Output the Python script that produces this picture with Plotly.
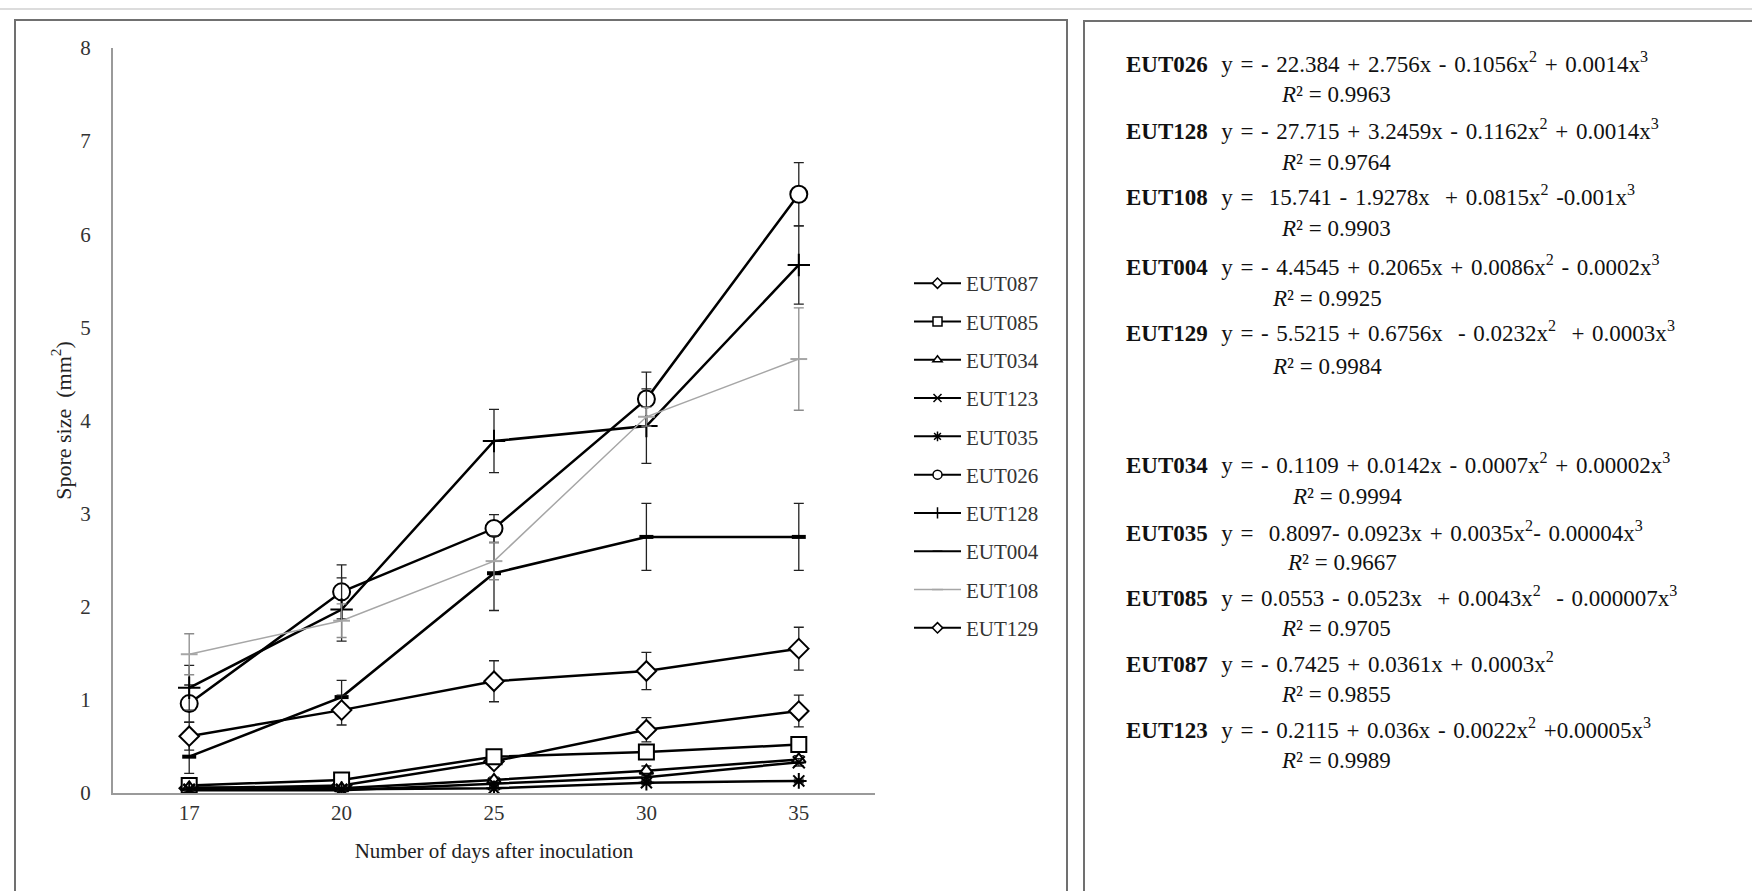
import plotly.graph_objects as go

# ---------------- data ----------------
days = ["17", "20", "25", "30", "35"]

series_names = ["EUT087", "EUT085", "EUT034", "EUT123", "EUT035",
                "EUT026", "EUT128", "EUT004", "EUT108", "EUT129"]

eut087 = [0.05, 0.08, 0.34, 0.68, 0.88]
eut085 = [0.08, 0.14, 0.39, 0.44, 0.52]
eut034 = [0.06, 0.05, 0.14, 0.24, 0.36]
eut123 = [0.03, 0.03, 0.10, 0.17, 0.33]
eut035 = [0.04, 0.04, 0.05, 0.11, 0.13]
eut026 = [0.96, 2.16, 2.84, 4.23, 6.43]
eut128 = [1.13, 1.97, 3.78, 3.94, 5.67]
eut004 = [0.39, 1.03, 2.36, 2.75, 2.75]
eut108 = [1.49, 1.85, 2.49, 4.04, 4.66]
eut129 = [0.61, 0.89, 1.20, 1.31, 1.55]

err087 = [0.02, 0.03, 0.06, 0.13, 0.17]
err085 = [0.03, 0.03, 0.05, 0.05, 0.06]
err034 = [0.02, 0.02, 0.03, 0.05, 0.04]
err123 = [0.01, 0.01, 0.02, 0.03, 0.04]
err035 = [0.01, 0.01, 0.02, 0.02, 0.02]
err026 = [0.20, 0.29, 0.15, 0.29, 0.34]
err128 = [0.24, 0.34, 0.34, 0.40, 0.42]
err004 = [0.18, 0.18, 0.40, 0.36, 0.36]
err108 = [0.22, 0.18, 0.20, 0.10, 0.55]
err129 = [0.15, 0.16, 0.22, 0.20, 0.23]

values = [eut087, eut085, eut034, eut123, eut035, eut026, eut128, eut004, eut108, eut129]
errors = [err087, err085, err034, err123, err035, err026, err128, err004, err108, err129]

y_ticks = [0, 1, 2, 3, 4, 5, 6, 7, 8]

eq_names = ["EUT026", "EUT128", "EUT108", "EUT004", "EUT129",
            "EUT034", "EUT035", "EUT085", "EUT087", "EUT123"]
eq_texts = [
    "y = - 22.384 + 2.756x - 0.1056x<sup>2</sup> + 0.0014x<sup>3</sup>",
    "y = - 27.715 + 3.2459x - 0.1162x<sup>2</sup> + 0.0014x<sup>3</sup>",
    "y =  15.741 - 1.9278x  + 0.0815x<sup>2</sup> -0.001x<sup>3</sup>",
    "y = - 4.4545 + 0.2065x + 0.0086x<sup>2</sup> - 0.0002x<sup>3</sup>",
    "y = - 5.5215 + 0.6756x  - 0.0232x<sup>2</sup>  + 0.0003x<sup>3</sup>",
    "y = - 0.1109 + 0.0142x - 0.0007x<sup>2</sup> + 0.00002x<sup>3</sup>",
    "y =  0.8097- 0.0923x + 0.0035x<sup>2</sup>- 0.00004x<sup>3</sup>",
    "y = 0.0553 - 0.0523x  + 0.0043x<sup>2</sup>  - 0.000007x<sup>3</sup>",
    "y = - 0.7425 + 0.0361x + 0.0003x<sup>2</sup>",
    "y = - 0.2115 + 0.036x - 0.0022x<sup>2</sup> +0.00005x<sup>3</sup>",
]
r2_values = ["0.9963", "0.9764", "0.9903", "0.9925", "0.9984",
             "0.9994", "0.9667", "0.9705", "0.9855", "0.9989"]

# ---------------- styles / layout constants ----------------
W, H = 1752, 891
PL, PR, PT, PB = 113, 875, 48, 793   # plot area in page pixels
FONT = "Liberation Serif"
WIDE_SPACE = "\u00a0\u200a"


def fx(px):
    return (px - PL) / (PR - PL)


def fy(py):
    return (PB - py) / (PB - PT)


styles = {
    "EUT087": dict(symbol="diamond", size=15, lsize=8, color="#000", lw=2.5),
    "EUT085": dict(symbol="square", size=15, lsize=9, color="#000", lw=2.5),
    "EUT034": dict(symbol="triangle-up", size=12, lsize=8, color="#000", lw=2.5),
    "EUT123": dict(symbol="x-thin", size=12, lsize=8, color="#000", lw=2.5),
    "EUT035": dict(symbol="asterisk", size=13, lsize=8, color="#000", lw=2.5),
    "EUT026": dict(symbol="circle", size=17, lsize=9, color="#000", lw=2.5),
    "EUT128": dict(symbol="cross-thin", size=16, lsize=8, color="#000", lw=2.5),
    "EUT004": dict(symbol="line-ew", size=10, lsize=7, color="#000", lw=2.5),
    "EUT108": dict(symbol="line-ew", size=12, lsize=8, color="#a6a6a6", lw=1.5),
    "EUT129": dict(symbol="diamond", size=15, lsize=8, color="#000", lw=2.5),
}

fig = go.Figure()

for name, vals, errs in zip(series_names, values, errors):
    st = styles[name]
    thin = st["symbol"] in ("x-thin", "cross-thin", "asterisk", "line-ew")
    marker = dict(symbol=st["symbol"], size=st["size"],
                  color=st["color"] if thin else "white",
                  line=dict(color=st["color"],
                            width=(4 if name == "EUT004" else 2)))
    fig.add_trace(go.Scatter(
        x=days, y=vals, name=name, mode="lines+markers",
        line=dict(color=st["color"], width=st["lw"]),
        marker=marker,
        error_y=dict(type="data", array=errs, visible=True,
                     color=("#8c8c8c" if name == "EUT108" else "#222"),
                     thickness=1.3, width=5),
        showlegend=False,
    ))

# legend entries (small symbols as in the original legend)
for name in series_names:
    st = styles[name]
    thin = st["symbol"] in ("x-thin", "cross-thin", "asterisk", "line-ew")
    fig.add_trace(go.Scatter(
        x=[None], y=[None], name=name, mode="lines+markers",
        legendgroup=name,
        line=dict(color=st["color"], width=(1.5 if name == "EUT108" else 2)),
        marker=dict(symbol=st["symbol"], size=st["lsize"],
                    color=st["color"] if thin else "white",
                    line=dict(color=st["color"], width=1.5)),
        showlegend=True,
    ))

# ---------------- shapes (frames) ----------------
shapes = [
    dict(type="line", xref="paper", yref="paper", x0=fx(0), x1=fx(W),
         y0=fy(9), y1=fy(9), line=dict(color="#dcdcdc", width=2)),
    dict(type="rect", xref="paper", yref="paper", x0=fx(15), x1=fx(1067),
         y0=fy(20), y1=fy(H + 20), line=dict(color="#707070", width=2)),
    dict(type="rect", xref="paper", yref="paper", x0=fx(1084), x1=fx(W + 20),
         y0=fy(21), y1=fy(H + 20), line=dict(color="#707070", width=2)),
]

# ---------------- equation annotations ----------------
eq_y = [62, 129, 195, 265, 331, 464, 531, 596, 662, 728]
r2_y = [94, 162, 229, 298, 366, 496, 562, 628, 694, 760]
r2_x = [1279, 1279, 1279, 1270, 1270, 1290, 1285, 1279, 1279, 1279]

annotations = []
for i, (nm, eq, r2) in enumerate(zip(eq_names, eq_texts, r2_values)):
    eq_fmt = eq.replace(" ", WIDE_SPACE)
    annotations.append(dict(
        xref="paper", yref="paper", x=fx(1124), y=fy(eq_y[i]),
        xanchor="left", yanchor="middle", showarrow=False,
        text="<b>" + nm + "</b>" + WIDE_SPACE + "\u00a0" + eq_fmt,
        font=dict(family=FONT, size=23, color="#111")))
    annotations.append(dict(
        xref="paper", yref="paper", x=fx(r2_x[i]), y=fy(r2_y[i]),
        xanchor="left", yanchor="middle", showarrow=False,
        text="<i>R</i>\u00b2 = " + r2,
        font=dict(family=FONT, size=23, color="#111")))

fig.update_layout(
    width=W, height=H,
    margin=dict(l=PL, r=W - PR, t=PT, b=H - PB, autoexpand=False),
    paper_bgcolor="white", plot_bgcolor="white",
    font=dict(family=FONT, color="#333"),
    shapes=shapes,
    annotations=annotations,
    legend=dict(x=fx(909), xanchor="left", y=fy(263), yanchor="top",
                font=dict(family=FONT, size=21, color="#333"),
                tracegroupgap=8, itemwidth=47,
                bgcolor="rgba(0,0,0,0)", borderwidth=0),
    xaxis=dict(type="category", categoryorder="array", categoryarray=days,
               range=[-0.5, 4.5], showline=True, linecolor="#9a9a9a",
               linewidth=2, showgrid=False, zeroline=False, ticks="",
               tickfont=dict(family=FONT, size=21, color="#333"),
               automargin=False,
               title=dict(text="Number of days after inoculation",
                          font=dict(family=FONT, size=21, color="#222"),
                          standoff=19)),
    yaxis=dict(range=[0, 8], tickvals=y_ticks, showline=True,
               linecolor="#9a9a9a", linewidth=2, showgrid=False,
               zeroline=False, ticks="", ticklabelstandoff=16,
               tickfont=dict(family=FONT, size=21, color="#333"),
               automargin=False,
               title=dict(text="Spore size\u00a0 (mm<sup>2</sup>)",
                          font=dict(family=FONT, size=22, color="#222"),
                          standoff=3)),
)

fig.write_html("out.html", config={"displayModeBar": False},
               post_script="document.body.style.margin='0';document.body.style.overflow='hidden';")
